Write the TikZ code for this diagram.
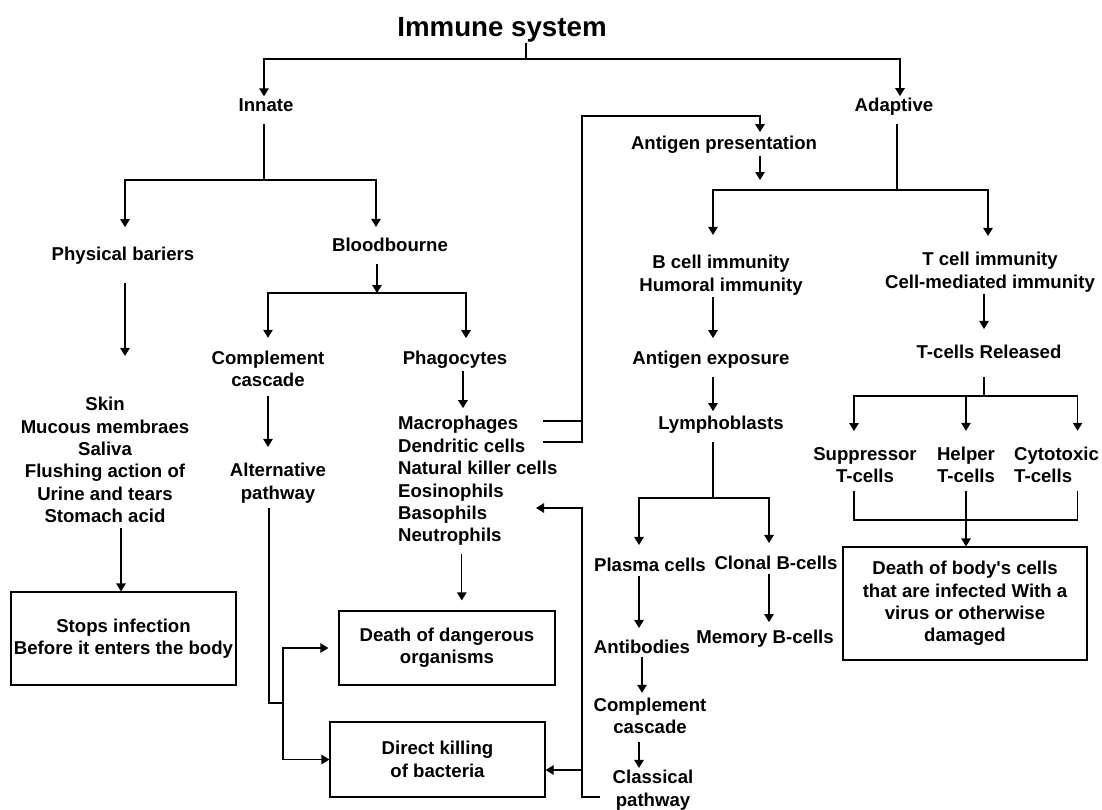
\documentclass[tikz,border=0pt]{standalone}
\usepackage{fontspec}
\setmainfont{Liberation Sans}
\usetikzlibrary{arrows.meta}

\begin{document}
\begin{tikzpicture}[x=1pt,y=-1pt,
	txt/.style={font=\fontsize{18.6}{22.4}\selectfont\bfseries, inner sep=2pt, align=center},
	box/.style={txt, draw, line width=1.2pt},
	ln/.style={line width=1.2pt},
	arr/.style={line width=1.2pt, -{Triangle[length=8pt,width=9.5pt]}}]
		\useasboundingbox (0,0) rectangle (1102,809);
		% labels
		\node[txt, font=\fontsize{27.7}{33}\selectfont\bfseries, inner sep=0pt] (title) at (502,30) {Immune system};
		\node[txt] (innate) at (266,105) {Innate};
		\node[txt] (adaptive) at (894,107) {Adaptive};
		\node[txt] (phys) at (123,256) {Physical bariers};
		\node[txt] (blood) at (390,245) {Bloodbourne};
		\node[txt] (skin) at (105,460) {Skin\\Mucous membraes\\Saliva\\Flushing action of\\Urine and tears\\Stomach acid};
		\node[txt] (comp) at (268,369) {Complement\\cascade};
		\node[txt] (alt) at (278,483) {Alternative\\pathway};
		\node[txt] (phago) at (455,360) {Phagocytes};
		\node[txt, align=left, anchor=west] (phlist) at (396,481) {Macrophages\\Dendritic cells\\Natural killer cells\\Eosinophils\\Basophils\\Neutrophils};
		\node[txt] (antpres) at (724,145) {Antigen presentation};
		\node[txt] (bcell) at (721,275) {B cell immunity\\Humoral immunity};
		\node[txt] (tcell) at (990,272) {T cell immunity\\Cell-mediated immunity};
		\node[txt] (antexp) at (711,360) {Antigen exposure};
		\node[txt] (lympho) at (721,425) {Lymphoblasts};
		\node[txt] (released) at (989,352) {T-cells Released};
		\node[txt] (supp) at (865,465) {Suppressor\\T-cells};
		\node[txt] (helper) at (966,465) {Helper\\T-cells};
		\node[txt, align=left, anchor=west] (cyto) at (1012,465) {Cytotoxic\\T-cells};
		\node[txt] (plasma) at (650,565) {Plasma cells};
		\node[txt] (clonal) at (776,563) {Clonal B-cells};
		\node[txt] (antibod) at (642,647) {Antibodies};
		\node[txt] (memory) at (765,639) {Memory B-cells};
		\node[txt] (ccasc) at (650,716) {Complement\\cascade};
		\node[txt] (classical) at (653,790) {Classical\\pathway};
		% boxes
		\node[box, minimum width=225pt, minimum height=93pt] (stops) at (123.5,638.5) {Stops infection\\Before it enters the body};
		\node[box, minimum width=216pt, minimum height=74pt] (death) at (447,648) {Death of dangerous\\organisms};
		\node[box, minimum width=215pt, minimum height=75pt] (direct) at (437.5,759.5) {Direct killing\\of bacteria};
		\node[box, minimum width=244pt, minimum height=113pt] (bodybox) at (965,603.5) {Death of body\textquotesingle s cells\\that are infected With a\\virus or otherwise\\damaged};
		% top
		\coordinate (topj) at (526,59);
		\draw[line width=1.7pt] (title.south -| topj) -- (topj);
		\draw[arr, line width=1.7pt] (topj) -| ([xshift=-2pt]innate.north);
		\draw[arr, line width=1.7pt] (topj) -| ([xshift=6pt]adaptive.north);
		% innate side
		\coordinate (ij) at (264,180);
		\draw[ln, shorten <=10pt] ([xshift=-2pt]innate.south) -- (ij);
		\draw[arr, shorten >=18pt] (ij) -| ([xshift=2pt]phys.north);
		\draw[arr, shorten >=9pt] (ij) -| ([xshift=-14pt]blood.north);
		\draw[arr, shorten <=16pt, shorten >=39pt] ([xshift=2pt]phys.south) -- ([xshift=2pt]phys.south |- skin.north);
		\draw[arr, shorten <=3pt] ([xshift=16pt]skin.south) -- ([xshift=16pt]skin.south |- stops.north);
		\coordinate (bj) at (377,293);
		\draw[arr, shorten <=10pt] ([xshift=-13pt]blood.south) -- (bj);
		\draw[arr, shorten >=11pt] (bj) -| (comp.north);
		\draw[arr, shorten >=11pt] (bj) -| ([xshift=11pt]phago.north);
		\draw[arr, shorten <=7pt, shorten >=14pt] (comp.south) -- (comp.south |- alt.north);
		\coordinate (aj2) at (283,703);
		\draw[ln, shorten <=3pt] ([xshift=-9pt]alt.south) |- (aj2);
		\draw[arr, shorten >=10pt] (aj2) |- (death.west);
		\draw[arr] (aj2) |- (direct.west);
		\draw[arr, shorten >=6pt] ([xshift=8pt]phago.south) -- ([xshift=8pt]phago.south |- phlist.north);
		\draw[arr, shorten <=6pt, shorten >=10pt] ([xshift=-16pt]phlist.south) -- ([xshift=-16pt]phlist.south |- death.north);
		% antigen presentation loop
		\coordinate (mac) at (543,421);
		\coordinate (den) at (543,442);
		\coordinate (apc) at (582,116);
		\draw[ln] (mac) -- (mac -| apc);
		\draw[arr, shorten >=2pt] (den) -| (apc) -| ([xshift=36pt]antpres.north);
		\coordinate (apt) at (760,180);
		\draw[arr] ([xshift=36pt]antpres.south) -- (apt);
		% adaptive side
		\coordinate (aj) at (897,190);
		\draw[ln, shorten <=6pt] ([xshift=3pt]adaptive.south) -- (aj);
		\draw[arr, shorten >=18pt] (aj) -| ([xshift=-8pt]bcell.north);
		\draw[arr, shorten >=14pt] (aj) -| ([xshift=-2pt]tcell.north);
		\draw[arr, shorten >=11pt] ([xshift=-8pt]bcell.south) -- ([xshift=-8pt]bcell.south |- antexp.north);
		\draw[arr, shorten <=6pt, shorten >=3pt] ([xshift=2pt]antexp.south) -- ([xshift=2pt]antexp.south |- lympho.north);
		\coordinate (lj) at (713,498);
		\draw[ln, shorten <=6pt] ([xshift=-8pt]lympho.south) -- (lj);
		\draw[arr, shorten >=11pt] (lj) -| ([xshift=-11pt]plasma.north);
		\draw[arr, shorten >=11pt] (lj) -| ([xshift=-7pt]clonal.north);
		\draw[arr, shorten <=2pt, shorten >=10pt] ([xshift=-11pt]plasma.south) -- ([xshift=-11pt]plasma.south |- antibod.north);
		\draw[arr, shorten <=2pt, shorten >=6pt] ([xshift=-7pt]clonal.south) -- ([xshift=-7pt]clonal.south |- memory.north);
		\draw[arr, shorten <=1pt, shorten >=3pt] (antibod.south) -- (antibod.south |- ccasc.north);
		\draw[arr, shorten <=6pt] ([xshift=-11pt]ccasc.south) -- ([xshift=-11pt]ccasc.south |- classical.north);
		% classical pathway back to the phagocytes
		\coordinate (clp) at (600,797);
		\coordinate (clv) at (582,508);
		\coordinate (bas) at (536,508);
		\draw[arr] (clp) -| (clv) -- (bas);
		\coordinate (dk) at (582,770);
		\draw[arr] (dk) -- (dk -| direct.east);
		% T cells
		\draw[arr, shorten >=14pt] ([xshift=-6pt]tcell.south) -- ([xshift=-6pt]tcell.south |- released.north);
		\coordinate (tj) at (984,396);
		\draw[ln, shorten <=16pt] ([xshift=-5pt]released.south) -- (tj);
		\draw[arr, shorten >=14pt] (tj) -| ([xshift=-11pt]supp.north);
		\draw[arr, shorten >=14pt] (tj) -| (helper.north);
		\draw[arr, shorten >=14pt] (tj) -| ([xshift=21pt]cyto.north);
		\coordinate (mj) at (965,520);
		\draw[ln, shorten <=6pt, shorten >=6pt] ([xshift=-11pt]supp.south) |- (mj) -| ([xshift=21pt]cyto.south);
		\draw[arr, shorten <=6pt] (helper.south) -- (helper.south |- bodybox.north);
\end{tikzpicture}
\end{document}
